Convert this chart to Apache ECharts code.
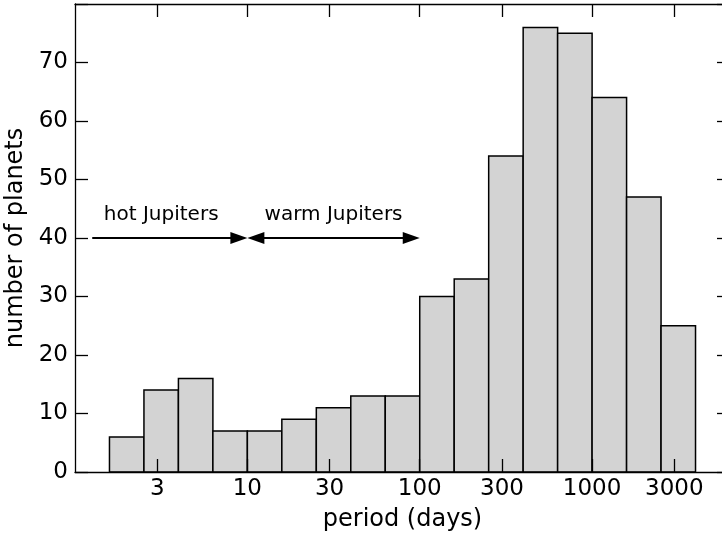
<!DOCTYPE html>
<html><head><meta charset="utf-8">
<script src="https://cdn.jsdelivr.net/npm/echarts@6/dist/echarts.min.js"></script>
<style>html,body{margin:0;padding:0;background:#fff}#c{width:722px;height:535px}</style>
</head><body><div id="c"></div>
<script>
// histogram bins (log10 of period in days)
const binLogLo = [0.2, 0.4, 0.6, 0.8, 1.0, 1.2, 1.4, 1.6, 1.8, 2.0, 2.2, 2.4, 2.6, 2.8, 3.0, 3.2, 3.4];
const binLogHi = [0.4, 0.6, 0.8, 1.0, 1.2, 1.4, 1.6, 1.8, 2.0, 2.2, 2.4, 2.6, 2.8, 3.0, 3.2, 3.4, 3.6];
const counts   = [6, 14, 16, 7, 7, 9, 11, 13, 13, 30, 33, 54, 76, 75, 64, 47, 25];
const xTickLabels = [3, 10, 30, 100, 300, 1000, 3000];
const yTickLabels = [0, 10, 20, 30, 40, 50, 60, 70];
// annotation arrows (log10 period) and texts
const arrowFrom = [0.1, 1.0];
const arrowTo   = [1.0, 2.0];
const arrowY    = [40, 40];
const arrowHeads = ['end', 'both'];
const noteText = ['hot Jupiters', 'warm Jupiters'];
const noteX = [0.5, 1.5];
const noteY = [44, 44];

const FONT = 'DejaVu Sans';
const chart = echarts.init(document.getElementById('c'), null, {renderer: 'canvas'});
const xTickPos = xTickLabels.map(v => Math.log10(v));

const tickCommon = () => ({show: true, inside: true, length: 13, lineStyle: {color: '#000', width: 1.3}});
const lineCommon = () => ({show: true, onZero: false, lineStyle: {color: '#000', width: 1.3}});

const barData = counts.map((c, i) => [binLogLo[i], binLogHi[i], c]);
const arrowData = arrowFrom.map((a, i) => [a, arrowTo[i], arrowY[i], i]);
const noteData = noteText.map((t, i) => [noteX[i], noteY[i], i]);

function head(tip, dir) {
  const L = 17, W = 6;
  return {type: 'polygon', shape: {points: [[tip[0], tip[1]], [tip[0] - dir * L, tip[1] - W], [tip[0] - dir * L, tip[1] + W]]},
    style: {fill: '#000'}};
}

chart.setOption({
  animation: false,
  grid: {left: 75, top: 4, width: 655, height: 468, outerBoundsMode: 'none', containLabel: false},
  xAxis: [{
    type: 'value', min: 0, max: 3.8, position: 'bottom', z: 5,
    axisLine: lineCommon(), splitLine: {show: false},
    axisTick: Object.assign({customValues: xTickPos}, tickCommon()),
    axisLabel: {customValues: xTickPos, formatter: v => String(Math.round(Math.pow(10, v))),
      fontFamily: FONT, fontSize: 23, color: '#000', margin: 6},
    name: 'period (days)', nameLocation: 'middle', nameGap: 36,
    nameTextStyle: {fontFamily: FONT, fontSize: 24, color: '#000'}
  }, {
    type: 'value', min: 0, max: 3.8, position: 'top', z: 5,
    axisLine: lineCommon(), splitLine: {show: false},
    axisTick: Object.assign({customValues: xTickPos}, tickCommon()),
    axisLabel: {show: false}
  }],
  yAxis: [{
    type: 'value', min: 0, max: 80, interval: 10, position: 'left', z: 5,
    axisLine: lineCommon(), splitLine: {show: false},
    axisTick: tickCommon(),
    axisLabel: {customValues: yTickLabels, fontFamily: FONT, fontSize: 23, color: '#000', margin: 7},
    name: 'number of planets', nameLocation: 'middle', nameGap: 44,
    nameTextStyle: {fontFamily: FONT, fontSize: 24, color: '#000'}
  }, {
    type: 'value', min: 0, max: 80, interval: 10, position: 'right', z: 5,
    axisLine: lineCommon(), splitLine: {show: false},
    axisTick: tickCommon(), axisLabel: {show: false}
  }],
  series: [{
    type: 'custom', xAxisIndex: 0, yAxisIndex: 0, data: barData, z: 2,
    renderItem: (params, api) => {
      const p0 = api.coord([api.value(0), 0]);
      const p1 = api.coord([api.value(1), api.value(2)]);
      return {type: 'rect', shape: {x: p0[0], y: p1[1], width: p1[0] - p0[0], height: p0[1] - p1[1]},
        style: {fill: '#d3d3d3', stroke: '#000', lineWidth: 1.5}};
    }
  }, {
    type: 'custom', xAxisIndex: 0, yAxisIndex: 0, data: arrowData, z: 3,
    renderItem: (params, api) => {
      const a = api.coord([api.value(0), api.value(2)]);
      const b = api.coord([api.value(1), api.value(2)]);
      const kind = arrowHeads[api.value(3)];
      const children = [];
      const x0 = kind === 'both' ? a[0] + 15 : a[0];
      children.push({type: 'line', shape: {x1: x0, y1: a[1], x2: b[0] - 15, y2: b[1]}, style: {stroke: '#000', lineWidth: 2}});
      children.push(head(b, 1));
      if (kind === 'both') children.push(head(a, -1));
      return {type: 'group', children};
    }
  }, {
    type: 'custom', xAxisIndex: 0, yAxisIndex: 0, data: noteData, z: 3,
    renderItem: (params, api) => {
      const p = api.coord([api.value(0), api.value(1)]);
      return {type: 'text', x: p[0], y: p[1],
        style: {text: noteText[api.value(2)], fontFamily: FONT, fontSize: 20, fill: '#000', align: 'center', verticalAlign: 'middle'}};
    }
  }]
});
</script></body></html>
